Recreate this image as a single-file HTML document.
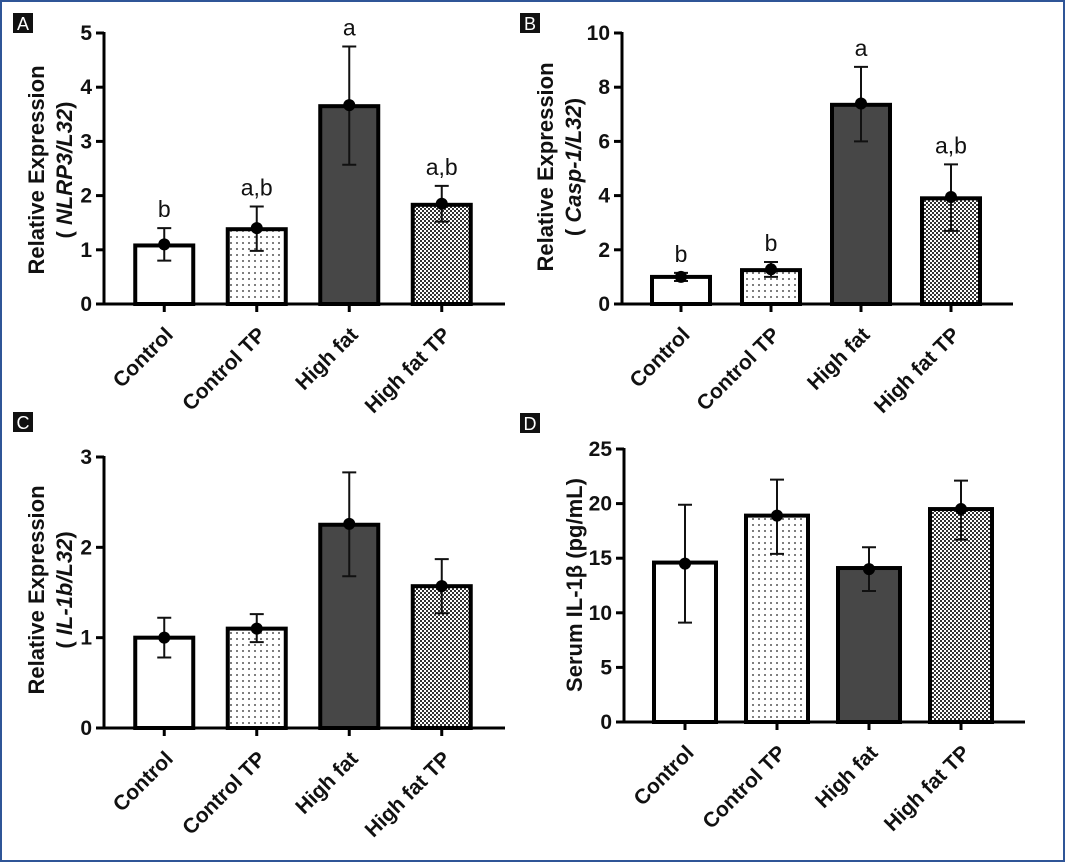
<!DOCTYPE html>
<html><head><meta charset="utf-8"><style>
html,body{margin:0;padding:0;background:#fff;}
svg{display:block;font-family:"Liberation Sans",Arial,sans-serif;}
</style></head><body>
<svg id="fig" width="1065" height="862" viewBox="0 0 1065 862">
<defs>
<pattern id="dots" width="6" height="6" patternUnits="userSpaceOnUse"><rect width="6" height="6" fill="#fff"/><circle cx="3" cy="3" r="0.9" fill="#222"/></pattern>
<pattern id="check" width="4" height="4" patternUnits="userSpaceOnUse"><rect width="4" height="4" fill="#fff"/><rect width="2" height="2" fill="#333"/><rect x="2" y="2" width="2" height="2" fill="#333"/></pattern>
</defs>
<rect x="1" y="1" width="1063" height="860" fill="#fff" stroke="#2f5597" stroke-width="2"/>
</svg>
<script>
const categories = ["Control","Control TP","High fat","High fat TP"];
const fills = ["#fff","url(#dots)","#474747","url(#check)"];
const aBar=[1.08,1.38,3.65,1.83], aPt=[1.1,1.4,3.67,1.85], aLo=[0.8,0.98,2.57,1.52], aHi=[1.4,1.8,4.75,2.18];
const aLetters=["b","a,b","a","a,b"]; const aTicks=[0,1,2,3,4,5];
const bBar=[1.0,1.25,7.35,3.9], bPt=[1.0,1.28,7.4,3.95], bLo=[0.85,1.0,6.0,2.7], bHi=[1.15,1.55,8.75,5.15];
const bLetters=["b","b","a","a,b"]; const bTicks=[0,2,4,6,8,10];
const cBar=[1.0,1.1,2.25,1.57], cPt=[1.0,1.1,2.26,1.57], cLo=[0.78,0.95,1.68,1.27], cHi=[1.22,1.26,2.83,1.87];
const cLetters=["","","",""]; const cTicks=[0,1,2,3];
const dBar=[14.6,18.9,14.1,19.5], dPt=[14.5,18.9,14.0,19.5], dLo=[9.1,15.4,12.0,16.7], dHi=[19.9,22.2,16.0,22.1];
const dLetters=["","","",""]; const dTicks=[0,5,10,15,20,25];

const NS="http://www.w3.org/2000/svg", svg=document.getElementById("fig");
function el(tag,attrs,parent,text){const e=document.createElementNS(NS,tag);for(const k in attrs)e.setAttribute(k,attrs[k]);if(text!==undefined)e.textContent=text;(parent||svg).appendChild(e);return e;}

function panel(p){
  const g=el("g",{});
  
  
  const ymax=p.ticks[p.ticks.length-1];
  const y=v=>p.y0-(p.y0-p.yTop)*v/ymax;
  const x=i=>p.x0+p.step*(i+0.5)+p.off;
  const lb=el("rect",{x:p.lx,y:p.ly,width:20,height:20,fill:"#111"},g);
  
  
  el("text",{x:p.lx+10,y:p.ly+17,fill:"#fff","font-size":18,"text-anchor":"middle"},g,p.id);
  p.bar.forEach((v,i)=>{
    const r=el("rect",{x:x(i)-p.bw/2,y:y(v),width:p.bw,height:p.y0-y(v),fill:fills[i],stroke:"#000","stroke-width":4},g);
    
    
  });
  p.bar.forEach((v,i)=>{
    const cx=x(i);
    const eb=el("path",{d:`M${cx},${y(p.lo[i])}V${y(p.hi[i])}M${cx-7},${y(p.hi[i])}H${cx+7}M${cx-7},${y(p.lo[i])}H${cx+7}`,stroke:"#111","stroke-width":2,fill:"none"},g);
    
    
    const c=el("circle",{cx:cx,cy:y(p.pt[i]),r:6,fill:"#000"},g);
    
    
    if(p.letters[i]){
      const t=el("text",{x:cx,y:y(p.hi[i])-11,"font-size":23,"text-anchor":"middle",fill:"#111"},g,p.letters[i]);
      
      
    }
  });
  const ya=el("line",{x1:p.x0,y1:p.yTop-1,x2:p.x0,y2:p.y0,stroke:"#000","stroke-width":3},g);
  
  
  const xa=el("line",{x1:p.x0-8,y1:p.y0,x2:p.xEnd,y2:p.y0,stroke:"#000","stroke-width":3},g);
  
  
  p.ticks.forEach(t=>{
    el("line",{x1:p.x0-8,y1:y(t),x2:p.x0,y2:y(t),stroke:"#000","stroke-width":3},g);
    const tl=el("text",{x:p.x0-12,y:y(t)+7,"font-size":21,"font-weight":"bold","text-anchor":"end",fill:"#111"},g,String(t));
    
    
  });
  categories.forEach((c,i)=>{
    el("line",{x1:x(i),y1:p.y0,x2:x(i),y2:p.y0+8,stroke:"#000","stroke-width":3},g);
    const tx=x(i)+10, ty=p.y0+32;
    const t=el("text",{x:tx,y:ty,"font-size":21,"font-weight":"bold","text-anchor":"end",fill:"#111",transform:`rotate(-45 ${tx} ${ty})`},g,c);
    
    
  });
  const tg=el("text",{transform:`translate(${p.tx},${p.ty}) rotate(-90)`,"font-size":22,"font-weight":"bold","text-anchor":"middle",fill:"#111"},g);
  
  
  if(p.t2){
    el("tspan",{x:0,y:0},tg,p.t1);
    el("tspan",{x:0,y:28},tg,"( ");
    el("tspan",{"font-style":"italic"},tg,p.t2);
    el("tspan",{},tg,")");
  } else { el("tspan",{x:0,y:0},tg,p.t1); }
}
panel({id:"A",lx:13,ly:13,x0:104,yTop:33,y0:304,step:92.5,off:14,bw:58,xEnd:505,ticks:aTicks,bar:aBar,pt:aPt,lo:aLo,hi:aHi,letters:aLetters,tx:44,ty:170,t1:"Relative Expression",t2:"NLRP3/L32"});
panel({id:"B",lx:520,ly:13,x0:622,yTop:33,y0:304,step:90,off:14,bw:58,xEnd:1013,ticks:bTicks,bar:bBar,pt:bPt,lo:bLo,hi:bHi,letters:bLetters,tx:553,ty:167,t1:"Relative Expression",t2:"Casp-1/L32"});
panel({id:"C",lx:13,ly:412,x0:104,yTop:457,y0:728,step:92.5,off:14,bw:58,xEnd:505,ticks:cTicks,bar:cBar,pt:cPt,lo:cLo,hi:cHi,letters:cLetters,tx:44,ty:590,t1:"Relative Expression",t2:"IL-1b/L32"});
panel({id:"D",lx:520,ly:413,x0:624,yTop:449,y0:722,step:92,off:15,bw:62,xEnd:1025,ticks:dTicks,bar:dBar,pt:dPt,lo:dLo,hi:dHi,letters:dLetters,tx:582,ty:585,t1:"Serum IL-1\u03B2 (pg/mL)",t2:""});
</script>
</body></html>
